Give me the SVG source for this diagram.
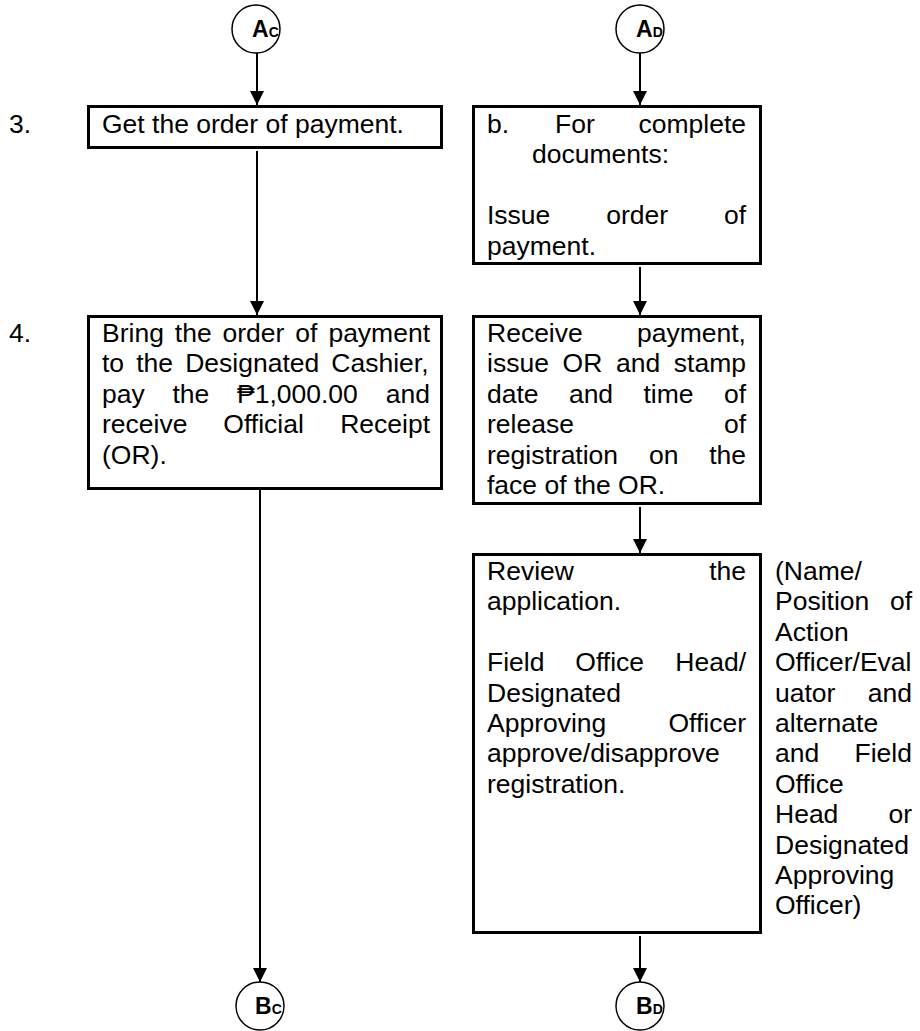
<svg xmlns="http://www.w3.org/2000/svg" width="920" height="1031" viewBox="0 0 920 1031">
<style>
.t{font-family:"Liberation Sans",Arial,"DejaVu Sans",sans-serif;font-size:26.5px;fill:#000}
.e{text-anchor:end}
.box{fill:#fff;stroke:#000;stroke-width:3}
.conn{stroke:#000;stroke-width:2;fill:none}
.circ{fill:#fff;stroke:#000;stroke-width:1.5}
.lbl{font-family:"Liberation Sans",Arial,sans-serif;font-weight:bold;fill:#000}
</style>
<defs>
<marker id="ah" markerUnits="userSpaceOnUse" markerWidth="14" markerHeight="14" refX="14" refY="7" orient="auto">
<path d="M0,0 L14,7 L0,14 z" fill="#000"/>
</marker>
</defs>
<rect width="920" height="1031" fill="#fff"/>
<g id="connectors">
<line class="conn" x1="257" y1="53" x2="257" y2="105" marker-end="url(#ah)"/>
<line class="conn" x1="257" y1="151" x2="257" y2="315" marker-end="url(#ah)"/>
<line class="conn" x1="260" y1="490" x2="260" y2="982" marker-end="url(#ah)"/>
<line class="conn" x1="640" y1="53" x2="640" y2="105" marker-end="url(#ah)"/>
<line class="conn" x1="640" y1="267" x2="640" y2="315" marker-end="url(#ah)"/>
<line class="conn" x1="640" y1="507" x2="640" y2="553" marker-end="url(#ah)"/>
<line class="conn" x1="640" y1="936" x2="640" y2="982" marker-end="url(#ah)"/>
</g>
<g id="AC">
<circle class="circ" cx="256" cy="29" r="24"/>
<text class="lbl" x="252" y="37"><tspan font-size="23">A</tspan><tspan font-size="14">C</tspan></text>
</g>
<g id="AD">
<circle class="circ" cx="640" cy="29" r="24"/>
<text class="lbl" x="636" y="37"><tspan font-size="23">A</tspan><tspan font-size="14">D</tspan></text>
</g>
<g id="BC">
<circle class="circ" cx="260" cy="1006" r="24"/>
<text class="lbl" x="255" y="1014"><tspan font-size="23">B</tspan><tspan font-size="14">C</tspan></text>
</g>
<g id="BD">
<circle class="circ" cx="640" cy="1006" r="24"/>
<text class="lbl" x="636" y="1014"><tspan font-size="23">B</tspan><tspan font-size="14">D</tspan></text>
</g>
<g id="step3">
<text class="t" x="9" y="133">3.</text>
<rect class="box" x="88.5" y="106.5" width="353" height="41"/>
<text class="t" x="102" y="133">Get the order of payment.</text>
</g>
<g id="step4">
<text class="t" x="9" y="342">4.</text>
<rect class="box" x="88.5" y="316.5" width="353" height="172"/>
<text class="t" y="342"><tspan x="102">Bring</tspan><tspan x="174.8">the</tspan><tspan x="222.5">order</tspan><tspan x="295.3">of</tspan><tspan x="328.4">payment</tspan></text>
<text class="t" y="372.4"><tspan x="102">to</tspan><tspan x="136.2">the</tspan><tspan x="185.2">Designated</tspan><tspan x="331.3">Cashier,</tspan></text>
<text class="t" y="402.8"><tspan x="102">pay</tspan><tspan x="172.5">the</tspan><tspan x="237">₱1,000.00</tspan></text>
<text class="t e" x="430" y="402.8">and</text>
<text class="t" y="433.2"><tspan x="102">receive</tspan><tspan x="223.3">Official</tspan></text>
<text class="t e" x="430" y="433.2">Receipt</text>
<text class="t" x="102" y="463.6">(OR).</text>
</g>
<g id="stepB">
<rect class="box" x="473.5" y="106.5" width="287" height="157"/>
<text class="t" y="133"><tspan x="487">b.</tspan><tspan x="555">For</tspan></text>
<text class="t e" x="746" y="133">complete</text>
<text class="t" x="532" y="163.4">documents:</text>
<text class="t" y="224.2"><tspan x="487">Issue</tspan><tspan x="606.2">order</tspan></text>
<text class="t e" x="746" y="224.2">of</text>
<text class="t" x="487" y="254.6">payment.</text>
</g>
<g id="receive">
<rect class="box" x="473.5" y="316.5" width="287" height="187"/>
<text class="t" x="487" y="342">Receive</text>
<text class="t e" x="746" y="342">payment,</text>
<text class="t" y="372.4"><tspan x="487">issue</tspan><tspan x="562.6">OR</tspan><tspan x="616">and</tspan></text>
<text class="t e" x="746" y="372.4">stamp</text>
<text class="t" y="402.8"><tspan x="487">date</tspan><tspan x="568.9">and</tspan><tspan x="643.4">time</tspan></text>
<text class="t e" x="746" y="402.8">of</text>
<text class="t" x="487" y="433.2">release</text>
<text class="t e" x="746" y="433.2">of</text>
<text class="t" y="463.6"><tspan x="487">registration</tspan><tspan x="648.9">on</tspan></text>
<text class="t e" x="746" y="463.6">the</text>
<text class="t" x="487" y="494">face of the OR.</text>
</g>
<g id="review">
<rect class="box" x="473.5" y="554.5" width="287" height="378"/>
<text class="t" x="487" y="580">Review</text>
<text class="t e" x="746" y="580">the</text>
<text class="t" x="487" y="610.4">application.</text>
<text class="t" y="671.2"><tspan x="487">Field</tspan><tspan x="575.3">Office</tspan></text>
<text class="t e" x="746" y="671.2">Head/</text>
<text class="t" x="487" y="701.6">Designated</text>
<text class="t" x="487" y="732">Approving</text>
<text class="t e" x="746" y="732">Officer</text>
<text class="t" x="487" y="762.4">approve/disapprove</text>
<text class="t" x="487" y="792.8">registration.</text>
</g>
<g id="responsible">
<text class="t" x="775" y="580">(Name/</text>
<text class="t" x="775" y="610.4">Position</text>
<text class="t e" x="912" y="610.4">of</text>
<text class="t" x="775" y="640.8">Action</text>
<text class="t" x="775" y="671.2">Officer/Eval</text>
<text class="t" x="775" y="701.6">uator</text>
<text class="t e" x="912" y="701.6">and</text>
<text class="t" x="775" y="732">alternate</text>
<text class="t" x="775" y="762.4">and</text>
<text class="t e" x="912" y="762.4">Field</text>
<text class="t" x="775" y="792.8">Office</text>
<text class="t" x="775" y="823.2">Head</text>
<text class="t e" x="912" y="823.2">or</text>
<text class="t" x="775" y="853.6">Designated</text>
<text class="t" x="775" y="884">Approving</text>
<text class="t" x="775" y="914.4">Officer)</text>
</g>
</svg>
